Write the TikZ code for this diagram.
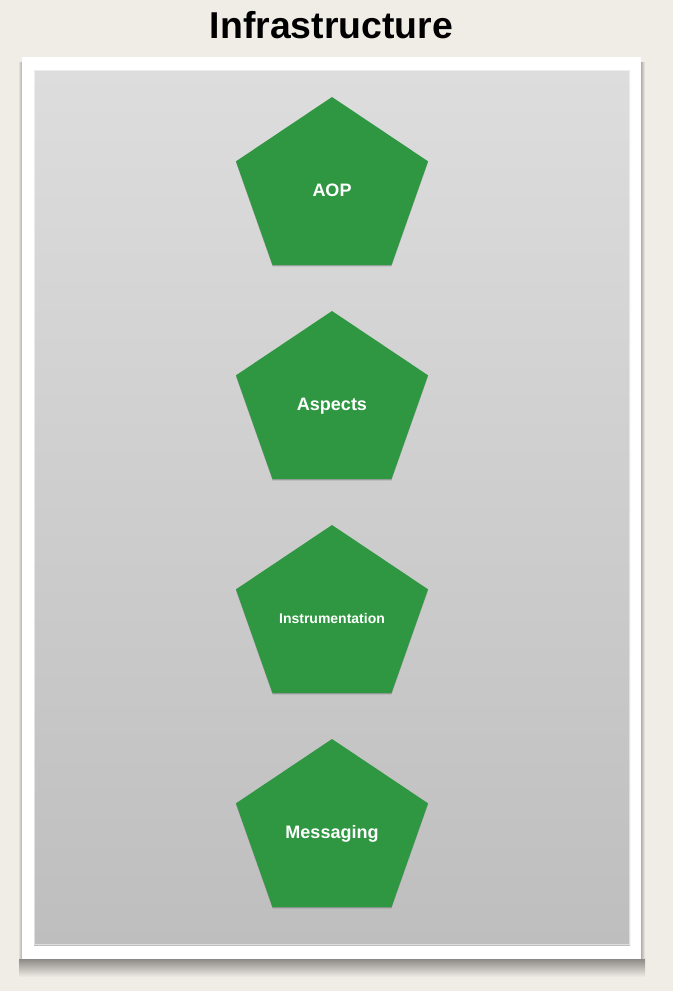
\documentclass[tikz,border=0pt]{standalone}
\usepackage{fontspec}
\setmainfont{Liberation Sans}
\definecolor{bgpaper}{RGB}{240,237,231}
\definecolor{pentgreen}{RGB}{47,151,66}
\definecolor{panetop}{RGB}{221,221,221}
\definecolor{panebot}{RGB}{190,190,190}
\definecolor{shadowgray}{RGB}{135,133,129}
\tikzset{
  pentfill/.style={fill=pentgreen},
  pentshadow/.style={fill=black, opacity=0.22},
  pentlabel/.style={text=white, font=\bfseries, inner sep=0pt, anchor=base},
  titlelabel/.style={text=black, font=\bfseries\fontsize{37.4}{40}\selectfont, inner sep=0pt, anchor=base}
}
\begin{document}
\begin{tikzpicture}[x=1pt,y=-1pt]
  % paper background
  \fill[bgpaper] (0,0) rectangle (673,991);
  \useasboundingbox (0,0) rectangle (673,991);
  % frame shadows
  \shade[top color=shadowgray, bottom color=bgpaper] (19,958) rectangle (645,977);
  \shade[left color=shadowgray!60!bgpaper, right color=bgpaper] (641,62) rectangle (645,958);
  \shade[right color=shadowgray!60!bgpaper, left color=bgpaper] (18,62) rectangle (22,958);
  % white frame
  \fill[white] (22,57) rectangle (641,959);
  % gray pane
  \shade[top color=panetop, bottom color=panebot] (34,70) rectangle (630,945);
  \draw[white, opacity=0.5, line width=0.6pt] (34.3,70.3) rectangle (629.7,944.7);
  % title
  \node[titlelabel] (title) at (331.5,38) {Infrastructure};
  % pentagons
  \foreach \cy/\nm/\txt/\fs in {190/aop/AOP/18, 404/aspects/Aspects/18, 618/instr/Instrumentation/14, 832/msg/Messaging/18}{
    \fill[pentshadow] (332,\cy-91.8) -- (428,\cy-27.5) -- (391.4,\cy+76.4) -- (272.6,\cy+76.4) -- (236,\cy-27.5) -- cycle;
    \fill[pentfill] (332,\cy-93) -- (428,\cy-28.7) -- (391.4,\cy+75.2) -- (272.6,\cy+75.2) -- (236,\cy-28.7) -- cycle;
    \node[pentlabel, font=\bfseries\fontsize{\fs}{\fs}\selectfont] (\nm) at (332,\cy+0.37*\fs) {\txt};
  }
\end{tikzpicture}
\end{document}
